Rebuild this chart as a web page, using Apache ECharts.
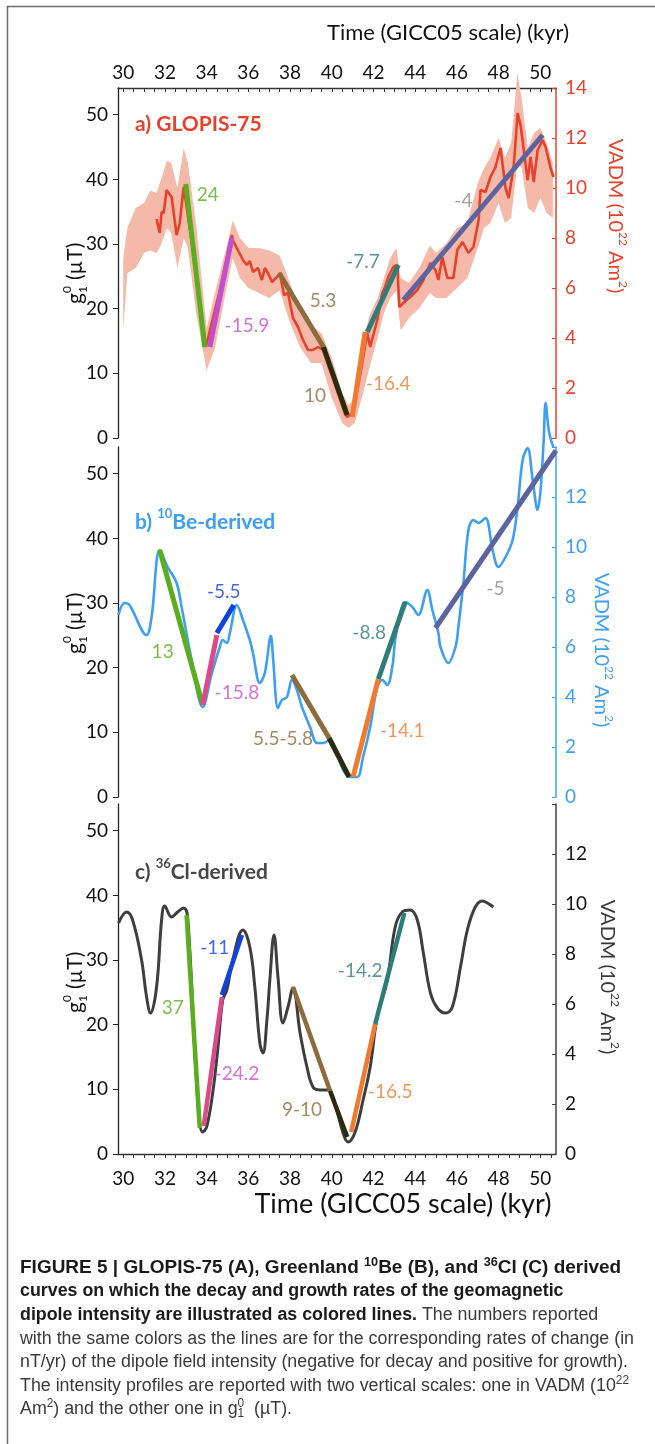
<!DOCTYPE html>
<html><head><meta charset="utf-8">
<script src="https://cdn.jsdelivr.net/npm/echarts@6/dist/echarts.min.js"></script>
<style>html,body{margin:0;padding:0;background:#fff}#c{width:655px;height:1444px}</style>
</head><body><div id="c"></div><script>
// ---------- tick labels ----------
const timeLabels = [30, 32, 34, 36, 38, 40, 42, 44, 46, 48, 50];
const timeMinorTicks = [30, 30.5, 31, 31.5, 32, 32.5, 33, 33.5, 34, 34.5, 35, 35.5, 36, 36.5, 37, 37.5, 38, 38.5, 39, 39.5, 40, 40.5, 41, 41.5, 42, 42.5, 43, 43.5, 44, 44.5, 45, 45.5, 46, 46.5, 47, 47.5, 48, 48.5, 49, 49.5, 50, 50.5];
const gLabels = [0, 10, 20, 30, 40, 50];
const vadmLabelsA = [0, 2, 4, 6, 8, 10, 12, 14];
const vadmLabelsBC = [0, 2, 4, 6, 8, 10, 12];

// ---------- a) GLOPIS-75 (time kyr, VADM 1e22 Am2) ----------
const glopisTime = [31.60, 31.75, 31.84, 31.94, 32.08, 32.32, 32.56, 32.71, 32.90, 33.45, 33.96, 34.05, 34.60, 35.21, 35.25, 35.74, 35.93, 36.07, 36.22, 36.46, 36.65, 36.79, 36.94, 37.13, 37.37, 37.51, 37.71, 37.90, 38.14, 38.38, 38.62, 38.86, 39.10, 39.34, 39.58, 40.16, 40.64, 40.74, 41.02, 41.36, 41.70, 41.84, 42.18, 42.42, 42.56, 42.71, 42.95, 43.14, 43.24, 43.43, 43.76, 44.10, 44.39, 44.73, 44.97, 45.11, 45.30, 45.54, 45.83, 46.02, 46.27, 46.55, 46.79, 47.04, 47.13, 47.37, 47.61, 47.85, 48.09, 48.33, 48.48, 48.72, 48.91, 49.05, 49.39, 49.53, 49.68, 49.87, 50.11, 50.25, 50.49, 50.63];
const glopisVadm = [8.76, 8.20, 9.04, 9.00, 9.92, 9.64, 8.12, 8.60, 10.04, 6.90, 3.64, 3.56, 5.80, 8.12, 7.92, 7.12, 6.92, 7.08, 6.64, 6.80, 6.32, 6.80, 6.60, 6.24, 6.44, 6.60, 5.72, 5.80, 4.80, 4.44, 3.92, 3.52, 3.52, 3.64, 3.52, 2.12, 0.96, 0.84, 1.00, 2.52, 4.20, 3.64, 4.72, 5.80, 6.04, 6.44, 6.84, 6.92, 5.24, 5.40, 5.64, 5.92, 6.32, 7.00, 6.72, 6.32, 7.24, 6.40, 6.40, 7.52, 7.84, 7.40, 7.64, 8.72, 9.92, 9.84, 10.44, 10.84, 11.60, 10.00, 9.60, 10.84, 13.00, 12.52, 10.32, 11.24, 10.24, 11.52, 11.92, 11.64, 10.80, 10.44];
const bandTime = [30.0, 30.2, 30.6, 31.0, 31.3, 31.6, 31.8, 32.1, 32.3, 32.6, 32.9, 33.1, 33.5, 34.0, 34.4, 35.0, 35.25, 35.6, 36.0, 36.5, 37.0, 37.5, 38.0, 38.5, 39.0, 39.5, 40.0, 40.5, 40.8, 41.1, 41.5, 41.8, 42.2, 42.5, 42.8, 43.1, 43.3, 43.7, 44.2, 44.7, 45.0, 45.5, 46.0, 46.5, 47.0, 47.3, 47.6, 48.0, 48.3, 48.6, 48.9, 49.1, 49.4, 49.7, 50.0, 50.3, 50.6];
const bandHigh = [7.2, 8.4, 9.2, 9.4, 9.9, 9.8, 10.3, 11.1, 11.0, 10.0, 11.6, 11.0, 8.5, 4.4, 5.8, 7.8, 8.7, 8.0, 7.6, 7.6, 7.5, 7.3, 6.2, 5.0, 4.5, 4.2, 3.2, 1.8, 1.3, 1.6, 3.8, 4.9, 5.6, 6.4, 7.2, 7.6, 6.4, 6.2, 6.8, 7.7, 7.4, 7.8, 8.4, 8.6, 10.2, 10.8, 11.2, 12.0, 11.2, 11.8, 14.6, 13.6, 11.6, 12.2, 12.4, 11.8, 11.0];
const bandLow = [4.3, 6.6, 6.8, 7.4, 7.5, 7.4, 7.7, 8.4, 8.2, 6.8, 8.0, 7.6, 5.0, 2.7, 3.6, 6.2, 7.2, 6.4, 6.0, 5.8, 5.6, 5.9, 4.6, 3.6, 3.0, 3.0, 1.6, 0.6, 0.4, 0.6, 1.8, 2.8, 4.0, 5.0, 5.6, 5.9, 4.3, 4.8, 5.2, 5.8, 5.6, 5.6, 6.0, 6.4, 7.6, 8.4, 8.6, 9.4, 8.6, 8.8, 11.0, 10.8, 9.2, 9.0, 9.6, 9.0, 8.8];

// ---------- b) 10Be-derived ----------
const beTime = [29.77, 30.06, 30.30, 31.12, 31.36, 31.75, 32.13, 32.56, 32.80, 33.28, 33.81, 34.25, 34.63, 34.77, 34.97, 35.11, 35.45, 35.74, 36.07, 36.22, 36.55, 36.79, 37.08, 37.18, 37.42, 37.61, 37.85, 38.09, 38.33, 38.57, 38.96, 39.29, 39.58, 39.92, 40.25, 40.54, 40.88, 41.22, 41.50, 41.84, 42.18, 42.42, 42.66, 42.90, 43.04, 43.28, 43.52, 43.86, 44.15, 44.58, 44.82, 45.11, 45.21, 45.59, 45.93, 46.07, 46.31, 46.55, 46.79, 47.04, 47.37, 47.71, 47.99, 48.33, 48.67, 48.91, 49.15, 49.39, 49.63, 49.87, 50.01, 50.16, 50.25, 50.40, 50.55, 50.63];
const beVadm = [7.28, 7.76, 7.68, 6.48, 7.20, 9.88, 9.20, 8.56, 7.60, 5.48, 3.60, 4.96, 6.00, 6.28, 6.16, 6.56, 7.68, 7.08, 6.28, 5.76, 4.56, 4.96, 6.44, 5.60, 3.56, 3.88, 4.00, 4.68, 4.28, 3.60, 2.80, 2.16, 2.16, 2.28, 1.76, 1.08, 0.80, 0.80, 1.60, 2.80, 4.40, 4.68, 4.48, 5.20, 6.28, 7.36, 7.80, 7.60, 7.28, 8.28, 7.48, 6.56, 6.00, 5.36, 6.00, 6.80, 8.56, 10.68, 11.08, 10.96, 11.16, 9.88, 9.20, 9.60, 10.28, 11.60, 13.48, 13.96, 12.68, 11.48, 12.28, 14.28, 15.76, 14.68, 14.16, 14.00];

// ---------- c) 36Cl-derived ----------
const clTime = [29.78, 30.16, 30.45, 30.88, 31.12, 31.31, 31.60, 31.84, 31.99, 32.32, 32.61, 32.90, 33.09, 33.57, 33.81, 34.00, 34.29, 34.53, 34.77, 34.97, 35.25, 35.74, 36.07, 36.31, 36.55, 36.70, 36.89, 37.03, 37.23, 37.42, 37.66, 37.90, 38.14, 38.48, 38.81, 39.10, 39.44, 39.82, 40.16, 40.54, 40.78, 41.12, 41.50, 41.84, 42.18, 42.66, 43.04, 43.38, 43.76, 44.10, 44.39, 44.73, 45.06, 45.45, 45.78, 46.17, 46.50, 46.88, 47.22, 47.46, 47.75];
const clVadm = [9.24, 9.68, 9.36, 7.76, 6.28, 5.64, 6.68, 9.36, 9.92, 9.48, 9.68, 9.84, 9.48, 2.16, 0.88, 1.08, 2.44, 4.16, 6.16, 6.56, 7.76, 8.96, 8.28, 6.68, 4.44, 4.04, 5.36, 6.96, 8.76, 7.08, 5.24, 5.88, 6.64, 4.84, 3.48, 2.68, 2.56, 2.56, 1.96, 0.84, 0.48, 0.88, 2.16, 3.48, 5.48, 6.96, 9.08, 9.68, 9.76, 9.36, 8.04, 6.44, 5.84, 5.64, 5.88, 7.48, 8.96, 9.88, 10.12, 10.04, 9.88];

// ---------- rate segments [t0, v0, t1, v1] ----------
const segA = [[33.00, 10.16, 33.91, 3.64], [34.15, 3.64, 35.21, 8.00], [37.47, 6.60, 39.60, 3.64], [39.60, 3.64, 40.74, 0.92], [40.98, 0.84, 41.60, 4.24], [41.70, 4.24, 43.19, 6.92], [43.43, 5.52, 50.11, 12.12]];
const segB = [[31.75, 9.88, 33.81, 3.68], [33.81, 3.68, 34.49, 6.48], [34.49, 6.56, 35.30, 7.68], [38.09, 4.88, 39.87, 2.36], [39.87, 2.36, 40.83, 0.80], [41.02, 0.80, 42.23, 4.72], [42.23, 4.72, 43.52, 7.80], [44.97, 6.76, 50.75, 13.86]];
const segC = [[33.04, 9.56, 33.67, 1.04], [33.86, 1.12, 34.73, 6.28], [34.73, 6.36, 35.69, 8.76], [38.14, 6.68, 39.92, 2.52], [39.92, 2.52, 40.74, 0.68], [40.93, 0.88, 42.08, 5.20], [42.08, 5.20, 43.48, 9.64]];

// ---------- rate annotations [t, v, text] ----------
const rateA = [[34.05, 9.72, '24'], [35.93, 4.48, '-15.9'], [39.58, 5.48, '5.3'], [39.20, 1.68, '10'], [42.71, 2.16, '-16.4'], [41.50, 7.04, '-7.7'], [46.31, 9.48, '-4']];
const rateB = [[31.89, 5.80, '13'], [34.82, 8.20, '-5.5'], [35.45, 4.16, '-15.8'], [37.66, 2.32, '5.5-5.8'], [43.38, 2.64, '-14.1'], [41.79, 6.56, '-8.8'], [47.85, 8.32, '-5']];
const rateC = [[32.37, 5.84, '37'], [34.39, 8.24, '-11'], [35.45, 3.20, '-24.2'], [38.57, 1.76, '9-10'], [42.80, 2.48, '-16.5'], [41.36, 7.32, '-14.2']];

// ---------- styles ----------
const C = {
  red: '#e8412b', band: '#f5b9a9', blue: '#3d9ff2', gray: '#3e3e3e',
  green: '#5aad1e', magenta: '#c04fd2', pink: '#dc4a8b', dblue: '#1242dc',
  brown: '#8d6b3d', black: '#2b2a0d', orange: '#f07a30', teal: '#2f7d79', slate: '#5b64a0', label4: '#8a8a8a'
};
const segColA = [C.green, C.magenta, C.brown, C.black, C.orange, C.teal, C.slate];
const segColB = [C.green, C.pink, C.dblue, C.brown, C.black, C.orange, C.teal, C.slate];
const segColC = [C.green, C.pink, C.dblue, C.brown, C.black, C.orange, C.teal];
const rateColA = [C.green, C.magenta, C.brown, C.brown, C.orange, C.teal, C.label4];
const rateColB = [C.green, C.dblue, '#c94fc9', C.brown, C.orange, C.teal, C.label4];
const rateColC = [C.green, C.dblue, '#c94fc9', C.brown, C.orange, C.teal];

const FONT = 'Lato, "Open Sans", sans-serif';
const UT_PER_VADM = 3.8668; // g10 (uT) per 1e22 Am2
const VMAX = 14;
const X0 = 29.75, X1 = 50.75;

const chart = echarts.init(document.getElementById('c'), null, {renderer: 'canvas'});

function zip(a, b) { return a.map((t, i) => [t, b[i]]); }

const grids = [
  {left: 118, top: 88, width: 438, height: 350},
  {left: 118, top: 447, width: 438, height: 350},
  {left: 118, top: 804, width: 438, height: 350}
];

function xAx(i) {
  const base = {gridIndex: i, type: 'value', min: X0, max: X1, splitLine: {show: false}};
  if (i === 1) return Object.assign(base, {show: false});
  return Object.assign(base, {
    position: i === 0 ? 'top' : 'bottom',
    axisLine: {show: true, onZero: false, lineStyle: {color: '#333', width: 1.3}},
    axisTick: {show: true, inside: i === 0, length: 4, customValues: timeMinorTicks, lineStyle: {color: '#333', width: 1}},
    axisLabel: {customValues: timeLabels, margin: i === 0 ? 6 : 15, fontSize: 19, color: '#111', fontFamily: FONT}
  });
}
function yLeft(i) {
  return {gridIndex: i, type: 'value', position: 'left', min: 0, max: VMAX * UT_PER_VADM,
    splitLine: {show: false},
    axisLine: {show: true, onZero: false, lineStyle: {color: '#222', width: 1.3}},
    axisTick: {show: true, inside: false, length: 5, customValues: gLabels, lineStyle: {color: '#222'}},
    axisLabel: {customValues: gLabels, margin: 10, fontSize: 19, color: '#111', fontFamily: FONT}};
}
function yRight(i, color, labels) {
  return {gridIndex: i, type: 'value', position: 'right', min: 0, max: VMAX, interval: 2,
    splitLine: {show: false},
    axisLine: {show: true, onZero: false, lineStyle: {color: color, width: 1.5}},
    axisTick: {show: true, inside: true, length: 4, customValues: vadmLabelsA, lineStyle: {color: color}},
    axisLabel: {customValues: labels, margin: 9, fontSize: 19, color: color === C.gray ? '#111' : color, fontFamily: FONT}};
}

function segSeries(segs, cols, xi, yi, w) {
  return segs.map((s, k) => ({
    type: 'line', xAxisIndex: xi, yAxisIndex: yi, data: [[s[0], s[1]], [s[2], s[3]]],
    showSymbol: false, symbol: 'none', silent: true, z: 5, clip: false,
    lineStyle: {color: cols[k], width: w, cap: 'butt'}
  }));
}
function rateSeries(rates, cols, xi, yi) {
  return {type: 'scatter', xAxisIndex: xi, yAxisIndex: yi, symbolSize: 1, silent: true, z: 10,
    itemStyle: {color: 'rgba(0,0,0,0)'},
    data: rates.map((r, k) => ({value: [r[0], r[1]], name: r[2], label: {color: cols[k]}})),
    label: {show: true, position: 'inside', formatter: '{b}', fontSize: 19, fontFamily: FONT}};
}

const series = [
  {type: 'custom', xAxisIndex: 0, yAxisIndex: 1, silent: true, z: 1, clip: false,
    data: [[40, 7]],
    renderItem: function (params, api) {
      const up = bandTime.map((t, i) => api.coord([t, bandHigh[i]]));
      const lo = bandTime.map((t, i) => api.coord([t, bandLow[i]])).reverse();
      return {type: 'polygon', shape: {points: up.concat(lo)}, style: {fill: C.band}};
    }},
  {type: 'line', xAxisIndex: 0, yAxisIndex: 1, data: zip(glopisTime, glopisVadm), showSymbol: false, symbol: 'none',
    z: 3, lineStyle: {color: C.red, width: 2.6}, silent: true},
  ...segSeries(segA, segColA, 0, 1, 5),
  {type: 'line', xAxisIndex: 1, yAxisIndex: 3, data: zip(beTime, beVadm), showSymbol: false, symbol: 'none', smooth: 0.35,
    z: 3, clip: false, lineStyle: {color: C.blue, width: 2.6}, silent: true},
  ...segSeries(segB, segColB, 1, 3, 5),
  {type: 'line', xAxisIndex: 2, yAxisIndex: 5, data: zip(clTime, clVadm), showSymbol: false, symbol: 'none', smooth: 0.4,
    z: 3, lineStyle: {color: C.gray, width: 3}, silent: true},
  ...segSeries(segC, segColC, 2, 5, 4.5),
  rateSeries(rateA, rateColA, 0, 1),
  rateSeries(rateB, rateColB, 1, 3),
  rateSeries(rateC, rateColC, 2, 5)
];

// ---------- graphic texts ----------
function gTitle(x, y) {
  // rotated g_1^0 (uT)
  return {type: 'group', x: x, y: y, rotation: Math.PI / 2, silent: true, children: [
    {type: 'text', x: -38, y: 0, style: {text: 'g', fontSize: 21, fontFamily: FONT, fill: '#111', align: 'left', verticalAlign: 'middle'}},
    {type: 'text', x: -27, y: -8, style: {text: '0', fontSize: 12, fontFamily: FONT, fill: '#111', align: 'left', verticalAlign: 'middle'}},
    {type: 'text', x: -27, y: 8, style: {text: '1', fontSize: 12, fontFamily: FONT, fill: '#111', align: 'left', verticalAlign: 'middle'}},
    {type: 'text', x: -14, y: 0, style: {text: '(µT)', fontSize: 21, fontFamily: FONT, fill: '#111', align: 'left', verticalAlign: 'middle'}}
  ]};
}
function vadmTitle(x, y, color) {
  return {type: 'text', x: x, y: y, rotation: -Math.PI / 2, silent: true, style: {
    text: '{a|VADM (10}{s|22}{a| Am}{s|2}{a|)}', align: 'center', verticalAlign: 'middle',
    rich: {a: {fontSize: 20, fontFamily: FONT, fill: color, lineHeight: 24, verticalAlign: 'bottom'},
           s: {fontSize: 12, fontFamily: FONT, fill: color, lineHeight: 12, verticalAlign: 'top'}}}};
}
function panelTitle(x, y, text, color) {
  return {type: 'text', x: x, y: y, silent: true, style: {text: text, align: 'left', verticalAlign: 'middle',
    rich: {t: {fontSize: 21, fontWeight: 'bold', fontFamily: FONT, fill: color, lineHeight: 26, verticalAlign: 'bottom'},
           s: {fontSize: 13, fontWeight: 'bold', fontFamily: FONT, fill: color, lineHeight: 13, verticalAlign: 'top'}}}};
}

// caption
const CAP_FONT = '"Liberation Sans", Arial, sans-serif';
const CAP_SIZE = 18;
const capMeasure = document.createElement('canvas').getContext('2d');
capMeasure.font = CAP_SIZE + 'px ' + CAP_FONT;
const capScale = 614 / capMeasure.measureText('with the same colors as the lines are for the corresponding rates of change (in').width;
const capLineStretch = [1.066, 1, 1, 1, 1, 1, 1];
const capRich = {
  b: {fontSize: CAP_SIZE, fontWeight: 'bold', fontFamily: CAP_FONT, fill: '#1a1a1a', lineHeight: 21, verticalAlign: 'bottom'},
  bs: {fontSize: 12, fontWeight: 'bold', fontFamily: CAP_FONT, fill: '#1a1a1a', lineHeight: 12, verticalAlign: 'top'},
  r: {fontSize: CAP_SIZE, fontFamily: CAP_FONT, fill: '#3a3a3a', lineHeight: 21, verticalAlign: 'bottom'},
  s: {fontSize: 12, fontFamily: CAP_FONT, fill: '#3a3a3a', lineHeight: 12, verticalAlign: 'top'}
};
const capLines = [
  '{b|FIGURE 5 | GLOPIS-75 (A), Greenland }{bs|10}{b|Be (B), and }{bs|36}{b|Cl (C) derived}',
  '{b|curves on which the decay and growth rates of the geomagnetic}',
  '{b|dipole intensity are illustrated as colored lines.}{r| The numbers reported}',
  '{r|with the same colors as the lines are for the corresponding rates of change (in}',
  '{r|nT/yr) of the dipole field intensity (negative for decay and positive for growth).}',
  '{r|The intensity profiles are reported with two vertical scales: one in VADM (10}{s|22}',
  '{r|Am}{s|2}{r|) and the other one in g}{s|0}{r|  (µT).}'
];
const capY = [1267, 1290, 1314, 1338, 1361, 1385, 1408];
const capGraphics = capLines.map((t, i) => ({type: 'text', x: 20, y: capY[i], scaleX: capScale * capLineStretch[i], silent: true,
  style: {text: t, rich: capRich, align: 'left', verticalAlign: 'middle'}}));
// subscript 1 under the superscript 0 of g in the last line
(function () {
  capMeasure.font = CAP_SIZE + 'px ' + CAP_FONT;
  let w = capMeasure.measureText('Am').width + capMeasure.measureText(') and the other one in g').width;
  capMeasure.font = '12px ' + CAP_FONT;
  w += capMeasure.measureText('2').width;
  capGraphics.push({type: 'text', x: 20 + w * capScale, y: capY[6] + 6, scaleX: capScale, silent: true,
    style: {text: '1', fontSize: 12, fontFamily: CAP_FONT, fill: '#3a3a3a', align: 'left', verticalAlign: 'middle'}});
})();

const graphic = [
  {type: 'line', silent: true, shape: {x1: 7.5, y1: 6, x2: 7.5, y2: 1444}, style: {stroke: '#6c6c6c', lineWidth: 1.5}},
  {type: 'line', silent: true, shape: {x1: 7, y1: 6.5, x2: 655, y2: 6.5}, style: {stroke: '#6c6c6c', lineWidth: 1.5}},
  {type: 'text', x: 327, y: 33, silent: true, style: {text: 'Time (GICC05 scale) (kyr)', fontSize: 22, fontFamily: FONT, fill: '#111', align: 'left', verticalAlign: 'middle'}},
  {type: 'text', x: 403, y: 1204, silent: true, style: {text: 'Time (GICC05 scale) (kyr)', fontSize: 27, fontFamily: FONT, fill: '#111', align: 'center', verticalAlign: 'middle'}},
  gTitle(75, 266), gTitle(75, 616), gTitle(75, 975),
  vadmTitle(617, 216, C.red), vadmTitle(603, 650, C.blue), vadmTitle(609, 977, '#3a3a3a'),
  panelTitle(135, 122, '{t|a) GLOPIS-75}', C.red),
  panelTitle(135, 520, '{t|b) }{s|10}{t|Be-derived}', C.blue),
  panelTitle(135, 870, '{t|c) }{s|36}{t|Cl-derived}', '#474747'),
  ...capGraphics
];

chart.setOption({
  animation: false,
  backgroundColor: '#ffffff',
  grid: grids,
  xAxis: [xAx(0), xAx(1), xAx(2)],
  yAxis: [yLeft(0), yRight(0, C.red, vadmLabelsA), yLeft(1), yRight(1, C.blue, vadmLabelsBC), yLeft(2), yRight(2, C.gray, vadmLabelsBC)],
  series: series,
  graphic: graphic
});
</script></body></html>
